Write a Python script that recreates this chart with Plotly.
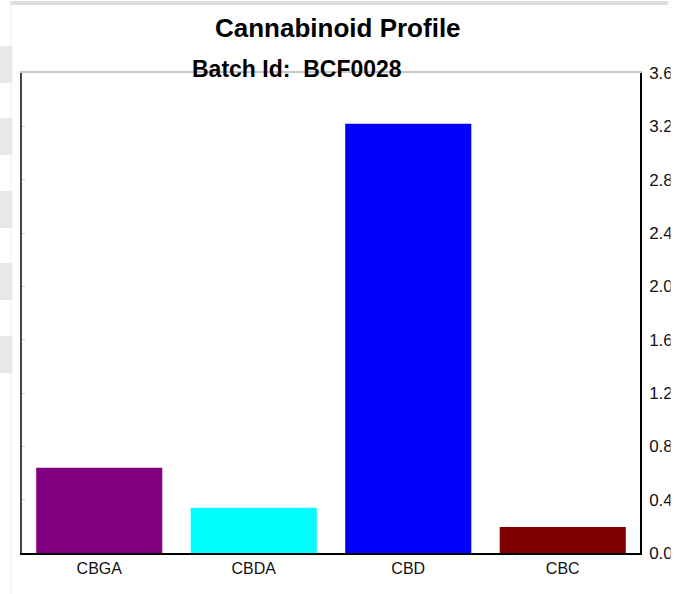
import plotly.graph_objects as go

# ---- data ----
categories = ["CBGA", "CBDA", "CBD", "CBC"]
values = [0.64, 0.34, 3.22, 0.195]
bar_colors = ["#800080", "#00FFFF", "#0000FF", "#800000"]
y_ticks = [0.0, 0.4, 0.8, 1.2, 1.6, 2.0, 2.4, 2.8, 3.2, 3.6]
title_text = "Cannabinoid Profile"
subtitle_text = "Batch Id:&nbsp; BCF0028"

W, H = 675, 594
L, R, T, B = 22, 35, 73, 41
PW, PH = W - L - R, H - T - B


def px(x):
    return (x - L) / PW


def py(y):
    return (H - B - y) / PH


fig = go.Figure()
fig.add_trace(go.Bar(
    x=categories, y=values, marker=dict(color=bar_colors, line=dict(width=0)),
    hoverinfo="skip", showlegend=False,
))

font_family = "Liberation Sans, Arial, sans-serif"

fig.update_layout(
    width=W, height=H,
    margin=dict(l=L, r=R, t=T, b=B, pad=0, autoexpand=False),
    paper_bgcolor="white", plot_bgcolor="white",
    bargap=0.184,
    font=dict(family=font_family, color="black"),
    xaxis=dict(
        type="category", showgrid=False, zeroline=False, automargin=False,
        showline=True, linecolor="black", linewidth=2,
        ticks="", tickfont=dict(size=16, color="#111"),
        range=[-0.5, 3.5],
    ),
    xaxis2=dict(
        overlaying="x", side="top", showline=True, linecolor="#c8c8c8",
        linewidth=2, showticklabels=False, ticks="", showgrid=False,
        zeroline=False, range=[0, 1], automargin=False,
    ),
    yaxis=dict(
        side="right", range=[0, 3.6], tickvals=y_ticks, tickformat=".1f",
        showgrid=False, zeroline=False, showline=True, linecolor="black",
        linewidth=1.5, ticks="", ticklabelstandoff=4, automargin=False,
        tickfont=dict(size=17, color="#111"),
    ),
    yaxis2=dict(
        overlaying="y", side="left", range=[0, 3.6], tickvals=y_ticks,
        showgrid=False, zeroline=False, showline=True, linecolor="#444",
        linewidth=1.5, ticks="inside", ticklen=3, tickcolor="#d0d0d0",
        showticklabels=False, automargin=False,
    ),
)

# invisible trace to activate overlay axes
fig.add_trace(go.Scatter(x=[None], y=[None], xaxis="x2", yaxis="y2",
                         showlegend=False, hoverinfo="skip"))

fig.add_annotation(text="<b>%s</b>" % title_text, xref="paper", yref="paper",
                   x=px(337.5), y=py(28.5), xanchor="center", yanchor="middle",
                   showarrow=False, font=dict(size=26, color="black", family=font_family))
fig.add_annotation(text="<b>%s</b>" % subtitle_text, xref="paper", yref="paper",
                   x=px(296.5), y=py(68.5), xanchor="center", yanchor="middle",
                   showarrow=False, font=dict(size=23, color="black", family=font_family))

# page decorations outside the plot
shapes = []
shapes.append(dict(type="rect", xref="paper", yref="paper", x0=px(10), x1=px(668),
                   y0=py(5), y1=py(1), fillcolor="#dddddd", line=dict(width=0), layer="below"))
shapes.append(dict(type="line", xref="paper", yref="paper", x0=px(11), x1=px(11),
                   y0=py(0), y1=py(594), line=dict(color="#f3f3e4", width=1), layer="below"))
for (a, b) in [(46, 83), (118, 155), (191, 228), (263, 300), (336, 373)]:
    shapes.append(dict(type="rect", xref="paper", yref="paper", x0=px(0), x1=px(12.5),
                       y0=py(b), y1=py(a), fillcolor="#e8e8e8", line=dict(width=0), layer="below"))
# right-edge crop of the reference (tick labels clipped)
shapes.append(dict(type="rect", xref="paper", yref="paper", x0=px(670.5), x1=px(676),
                   y0=py(590), y1=py(10), fillcolor="white", line=dict(width=0), layer="above"))
fig.update_layout(shapes=shapes)

fig.write_html("out.html", config={"displayModeBar": False},
               post_script="document.body.style.margin='0';document.body.style.overflow='hidden';")
